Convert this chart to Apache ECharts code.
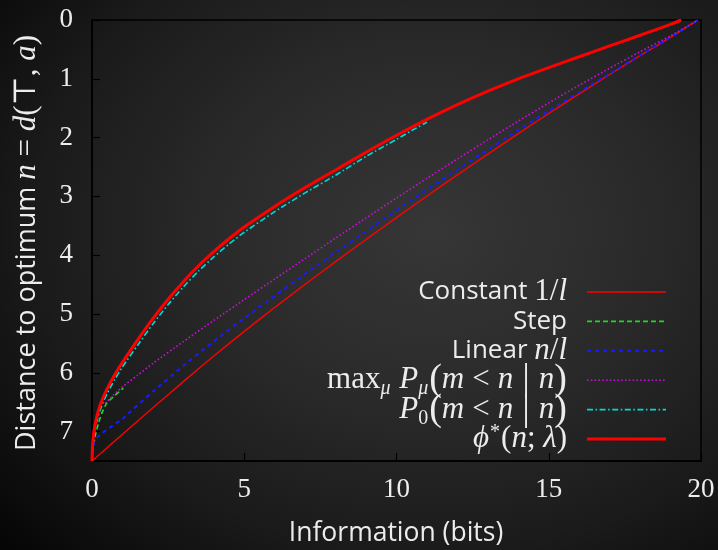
<!DOCTYPE html>
<html><head><meta charset="utf-8">
<script src="https://cdn.jsdelivr.net/npm/echarts@6/dist/echarts.min.js"></script>
<style>
html,body{margin:0;padding:0;}
#c{width:718px;height:550px;background:radial-gradient(ellipse 80% 85% at 60% 42%, #363636 0%, #2b2b2b 35%, #1b1b1b 68%, #060606 100%);}
</style></head>
<body><div id="c"></div>
<script>
// ---- data ----
const xTicks = [0, 5, 10, 15, 20];
const yTicks = [0, 1, 2, 3, 4, 5, 6, 7];

const constX = [0,1,2,3,4,5,6,7,8,9,10,11,12,13,14,15,16,17,18,19,19.9];
const constY = [7.5,7.045,6.595,6.15,5.715,5.295,4.89,4.495,4.11,3.732,3.36,2.994,2.634,2.28,1.932,1.59,1.255,0.927,0.607,0.295,0];

const stepX = [0,0.02,0.1,0.21,0.32,0.48,0.7,1.03];
const stepY = [7.5,7.37,7.09,6.86,6.69,6.52,6.41,6.26];

const linX = [0,0.05,0.1,0.3,0.7,1,2,3,4,5,6,7,8,9,10,11,12,13,14,15,16,17,18,19,19.9];
const linY = [7.5,7.25,7.14,7.04,6.89,6.78,6.32,5.88,5.465,5.07,4.69,4.318,3.952,3.592,3.237,2.887,2.542,2.204,1.872,1.546,1.226,0.911,0.601,0.296,0];

const maxX = [0.43,0.7,1,1.5,2,3,4,5,6,7,8,9,10,11,12,13,14,15,16,17,18,19,19.9];
const maxY = [6.52,6.38,6.24,6.04,5.84,5.47,5.11,4.755,4.405,4.057,3.711,3.368,3.028,2.693,2.363,2.038,1.72,1.41,1.11,0.82,0.54,0.27,0];

const p0X = [0,0.05,0.1,0.2,0.35,0.5,0.75,1,1.5,2,2.5,3,3.5,4,4.5,5,6,7,8,9,10,10.5,11];
const p0Y = [7.5,7.12,6.95,6.74,6.52,6.35,6.11,5.9,5.53,5.17,4.84,4.54,4.27,4.03,3.81,3.61,3.26,2.94,2.64,2.32,2.03,1.88,1.74];

const phiX = [0,0.02,0.05,0.1,0.2,0.35,0.5,0.75,1,1.5,2,2.5,3,3.5,4,4.5,5,6,7,8,9,10,11,12,13,14,15,16,17,18,19,19.35];
const phiY = [7.5,7.22,7.05,6.88,6.66,6.44,6.27,6.03,5.82,5.44,5.08,4.75,4.45,4.18,3.94,3.72,3.52,3.17,2.85,2.55,2.25,1.96,1.69,1.44,1.21,1.0,0.81,0.625,0.44,0.26,0.075,0];

const seriesNames = ['Constant 1/l','Step','Linear n/l','max P_mu(m<n|n)','P_0(m<n|n)','phi*(n;lambda)'];
const seriesColors = ['#ff0000','#22d822','#1a1aff','#c412d4','#00d8d8','#ff0000'];
// --------------------------------------

const zip = (xs, ys) => xs.map((x, i) => [x, ys[i]]);
const SANS = '"Open Sans", "DejaVu Sans", sans-serif';
const SERIF = '"Liberation Serif", "DejaVu Serif", serif';
const TXT = '#ececec';

const styles = [
  {width: 1.4, type: 'solid'},
  {width: 1.6, type: [5, 3]},
  {width: 2, type: [4, 4]},
  {width: 1.6, type: [1.6, 2.2]},
  {width: 1.6, type: [6, 2.5, 1.6, 2.5]},
  {width: 3, type: 'solid'}
];
const datas = [zip(constX, constY), zip(stepX, stepY), zip(linX, linY), zip(maxX, maxY), zip(p0X, p0Y), zip(phiX, phiY)];

const series = datas.map((d, i) => ({
  name: seriesNames[i], type: 'line', data: d, showSymbol: false, symbol: 'none',
  smooth: 0.2, lineStyle: {color: seriesColors[i], width: styles[i].width, type: styles[i].type},
  silent: true, z: 2 + i
}));

const MS = 31;
const rich = {
  s: {fontFamily: SANS, fontSize: 26, fill: TXT},
  r: {fontFamily: SERIF, fontSize: MS, fill: TXT},
  i: {fontFamily: SERIF, fontSize: MS, fontStyle: 'italic', fill: TXT},
  rel: {fontFamily: SERIF, fontSize: MS, fill: TXT, padding: [0, 8, 0, 8]},
  bar: {fontFamily: SERIF, fontSize: 38, fill: TXT, padding: [0, 9, 0, 9]},
  big: {fontFamily: SERIF, fontSize: 38, fill: TXT},
  sub: {fontFamily: SERIF, fontSize: 20, fontStyle: 'italic', fill: TXT, verticalAlign: 'bottom', padding: [14, 1, 0, 0]},
  subr: {fontFamily: SERIF, fontSize: 20, fill: TXT, verticalAlign: 'bottom', padding: [14, 1, 0, 0]},
  sup: {fontFamily: SERIF, fontSize: 20, fill: TXT, verticalAlign: 'top', padding: [0, 1, 12, 1]},
  ys: {fontFamily: SANS, fontSize: 27, fill: TXT},
  yr: {fontFamily: SERIF, fontSize: 31, fill: TXT},
  yi: {fontFamily: SERIF, fontSize: 31, fontStyle: 'italic', fill: TXT}
};

const legendTexts = [
  '{s|Constant }{r|1/}{i|l}',
  '{s|Step}',
  '{s|Linear }{i|n}{r|/}{i|l}',
  '{r|max}{sub|μ}{r| }{i|P}{sub|μ}{big|(}{i|m}{rel|<}{i|n}{bar||}{i|n}{big|)}',
  '{i|P}{subr|0}{big|(}{i|m}{rel|<}{i|n}{bar||}{i|n}{big|)}',
  '{i|ϕ}{sup|*}{r|(}{i|n}{r|; }{i|λ}{r|)}'
];
const legendY0 = 292, legendDy = 29.4;
const graphics = [];
legendTexts.forEach((t, i) => {
  const y = legendY0 + i * legendDy;
  graphics.push({type: 'text', x: 567, y: y, z: 100,
    style: {text: t, rich: rich, align: 'right', verticalAlign: 'middle', fill: TXT, fontFamily: SANS, fontSize: 26}});
  const lt = styles[i].type;
  graphics.push({type: 'line', z: 100, shape: {x1: 587, y1: y, x2: 666, y2: y},
    style: {stroke: seriesColors[i], lineWidth: styles[i].width, lineDash: Array.isArray(lt) ? lt : null}});
});
graphics.push({type: 'text', x: 396, y: 533, z: 100,
  style: {text: 'Information (bits)', fill: TXT, fontFamily: SANS, fontSize: 26.5, align: 'center', verticalAlign: 'middle'}});
graphics.push({type: 'text', x: 27, y: 243, rotation: Math.PI / 2, z: 100,
  style: {text: '{ys|Distance to optimum }{yi|n}{yr| = }{yi|d}{yr|(⊤, }{yi|a}{yr|)}', rich: rich, fill: TXT,
    align: 'center', verticalAlign: 'middle'}});

const chart = echarts.init(document.getElementById('c'), null, {renderer: 'canvas'});
chart.setOption({
  backgroundColor: 'transparent',
  animation: false,
  grid: {left: 92, right: 17, top: 20, bottom: 89, show: true, borderColor: '#000', borderWidth: 1.5, backgroundColor: 'transparent'},
  xAxis: {
    type: 'value', min: 0, max: 20, interval: 5,
    axisLine: {onZero: false, lineStyle: {color: '#000', width: 1.5}},
    axisTick: {inside: true, length: 8, lineStyle: {color: '#000', width: 1.2}},
    splitLine: {show: false},
    axisLabel: {color: TXT, fontFamily: SERIF, fontSize: 27, margin: 15,
      formatter: v => xTicks.includes(v) ? String(v) : ''}
  },
  yAxis: {
    type: 'value', min: 0, max: 7.5, interval: 1, inverse: true,
    axisLine: {onZero: false, lineStyle: {color: '#000', width: 1.5}},
    axisTick: {inside: true, length: 8, lineStyle: {color: '#000', width: 1.2}},
    splitLine: {show: false},
    axisLabel: {color: TXT, fontFamily: SERIF, fontSize: 27, margin: 19,
      formatter: v => yTicks.includes(v) ? String(v) : ''}
  },
  series: series,
  graphic: graphics
});
</script>
</body></html>
